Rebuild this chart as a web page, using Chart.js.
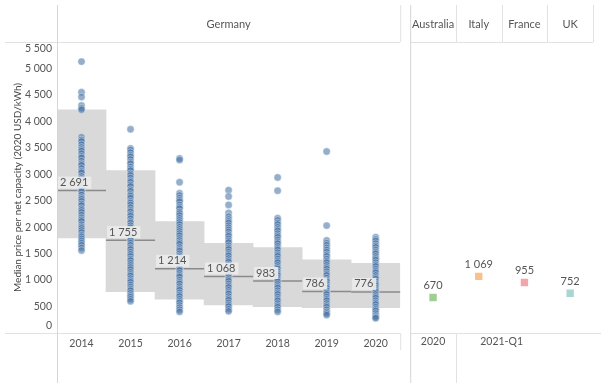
<!DOCTYPE html>
<html><head><meta charset="utf-8">
<script src="https://cdn.jsdelivr.net/npm/chart.js@4/dist/chart.umd.min.js"></script>
<style>
html,body{margin:0;padding:0;background:#fff;}
#wrap{position:relative;width:601px;height:383px;overflow:hidden;background:#fff;}
#c1{position:absolute;left:0;top:0;}
#c2{position:absolute;left:405px;top:0;}
</style></head><body>
<div id="wrap"><canvas id="c1" width="405" height="383"></canvas><canvas id="c2" width="196" height="383"></canvas></div>
<script>
// ---- data ----
const years = ['2014','2015','2016','2017','2018','2019','2020'];
const boxLow = [1797, 781, 638, 530, 498, 479, 479];
const boxHigh = [4219, 3071, 2106, 1697, 1614, 1381, 1319];
const medians = [2691, 1755, 1214, 1068, 983, 786, 776];
const p2014 = [5130, 4550, 4460, 4300, 4250, 4220, 3700, 3650, 3620, 3560, 3510, 3470, 3440, 3390, 3340, 3310, 3250, 3200, 3170, 3110, 3060, 3030, 2960, 2920, 2890, 2830, 2790, 2750, 2700, 2670, 2610, 2560, 2530, 2490, 2440, 2410, 2350, 2320, 2280, 2230, 2180, 2140, 2110, 2050, 2010, 1980, 1940, 1900, 1850, 1820, 1780, 1740, 1700, 1660, 1610, 1560];
const p2015 = [3850, 3490, 3460, 3410, 3360, 3330, 3280, 3230, 3200, 3140, 3100, 3070, 3010, 2980, 2930, 2880, 2850, 2800, 2770, 2710, 2680, 2620, 2590, 2550, 2490, 2460, 2420, 2370, 2320, 2290, 2240, 2210, 2160, 2110, 2080, 2030, 1990, 1950, 1910, 1860, 1830, 1780, 1750, 1700, 1660, 1610, 1580, 1530, 1490, 1450, 1400, 1370, 1320, 1280, 1240, 1200, 1150, 1110, 1080, 1030, 990, 960, 910, 870, 830, 800, 750, 710, 680, 640, 600];
const p2016 = [3300, 3270, 2850, 2640, 2600, 2550, 2510, 2480, 2420, 2380, 2350, 2290, 2260, 2220, 2170, 2130, 2090, 2050, 2000, 1960, 1920, 1880, 1840, 1790, 1750, 1710, 1680, 1620, 1580, 1550, 1500, 1460, 1430, 1370, 1330, 1300, 1250, 1210, 1180, 1130, 1090, 1060, 1000, 960, 930, 880, 840, 810, 760, 720, 690, 640, 600, 570, 520, 480, 440, 400];
const p2017 = [2700, 2580, 2420, 2270, 2200, 2150, 2110, 2080, 2030, 1990, 1950, 1910, 1860, 1830, 1780, 1740, 1710, 1650, 1610, 1580, 1530, 1490, 1460, 1410, 1370, 1340, 1290, 1250, 1220, 1170, 1130, 1100, 1050, 1010, 980, 930, 890, 860, 810, 770, 740, 690, 650, 620, 570, 530, 500, 450, 410];
const p2018 = [2940, 2690, 2170, 2130, 2080, 2050, 2000, 1960, 1930, 1880, 1840, 1810, 1760, 1720, 1690, 1640, 1600, 1570, 1520, 1480, 1450, 1400, 1360, 1330, 1280, 1240, 1210, 1160, 1120, 1090, 1040, 1000, 970, 920, 880, 850, 800, 760, 730, 680, 640, 610, 560, 520, 490, 440, 400];
const p2019 = [3430, 2030, 1750, 1700, 1660, 1610, 1570, 1530, 1480, 1450, 1400, 1360, 1330, 1280, 1240, 1210, 1160, 1120, 1090, 1040, 1000, 970, 920, 880, 850, 800, 760, 730, 680, 640, 610, 560, 520, 490, 440, 400, 370, 340];
const p2020 = [1810, 1770, 1740, 1690, 1650, 1620, 1570, 1530, 1500, 1450, 1410, 1380, 1330, 1290, 1260, 1210, 1170, 1140, 1090, 1050, 1020, 970, 930, 900, 850, 810, 780, 730, 690, 660, 610, 570, 540, 490, 450, 420, 370, 330, 300, 280];
const pricesByYear = [p2014, p2015, p2016, p2017, p2018, p2019, p2020];
const countries = ['Australia', 'Italy', 'France', 'UK'];
const periodLabels = ['2020', '2021-Q1'];
const countryValues = [670, 1069, 955, 752];
const countryColors = ['#9fce94', '#f9c08a', '#f2a6a9', '#a9d6d3'];
const yTicks = [0, 500, 1000, 1500, 2000, 2500, 3000, 3500, 4000, 4500, 5000, 5500];
const yTitle = 'Median price per net capacity (2020 USD/kWh)';

// ---- helpers ----
const FONT = 'Lato, "Open Sans", sans-serif';
const TXT = '#555';
const LINE = '#e2e2e2';
const LINE2 = '#d6d6d6';
Chart.defaults.font.family = FONT;
Chart.defaults.font.size = 10.5;
Chart.defaults.color = TXT;
function fmt(v){ v = Math.round(v); return v >= 1000 ? Math.floor(v/1000) + ' ' + String(v % 1000).padStart(3, '0') : String(v); }
function hline(ctx, x0, x1, y, c){ ctx.strokeStyle = c; ctx.lineWidth = 1; ctx.beginPath(); ctx.moveTo(x0, y + 0.5); ctx.lineTo(x1, y + 0.5); ctx.stroke(); }
function vline(ctx, x, y0, y1, c){ ctx.strokeStyle = c; ctx.lineWidth = 1; ctx.beginPath(); ctx.moveTo(x + 0.5, y0); ctx.lineTo(x + 0.5, y1); ctx.stroke(); }

const scatterData = [];
pricesByYear.forEach((arr, i) => arr.forEach(v => scatterData.push({x: years[i], y: v})));

const leftDecor = {
  id: 'leftDecor',
  afterDatasetDraw(chart, args){
    if (args.index !== 0) return;
    const ctx = chart.ctx, ys = chart.scales.y, meta = chart.getDatasetMeta(0);
    ctx.save();
    ctx.strokeStyle = '#8a8a8a'; ctx.lineWidth = 1.5;
    meta.data.forEach((bar, i) => {
      const y = ys.getPixelForValue(medians[i]);
      ctx.beginPath(); ctx.moveTo(bar.x - bar.width/2, y); ctx.lineTo(bar.x + bar.width/2, y); ctx.stroke();
    });
    ctx.restore();
  },
  afterDatasetsDraw(chart){
    const ctx = chart.ctx, ys = chart.scales.y, meta = chart.getDatasetMeta(0);
    ctx.save();
    ctx.font = '11px ' + FONT;
    ctx.textBaseline = 'middle'; ctx.textAlign = 'left';
    meta.data.forEach((bar, i) => {
      const y = ys.getPixelForValue(medians[i]);
      const t = fmt(medians[i]);
      const w = ctx.measureText(t).width;
      const x0 = bar.x - bar.width/2 + 1;
      ctx.fillStyle = 'rgba(236,236,236,0.92)';
      ctx.fillRect(x0, y - 14, w + 5, 12);
      ctx.fillStyle = TXT;
      ctx.fillText(t, x0 + 2, y - 8);
    });
    ctx.restore();
  },
  afterDraw(chart){
    const ctx = chart.ctx, a = chart.chartArea, ys = chart.scales.y;
    ctx.save();
    hline(ctx, 5, a.right, a.top, LINE);
    hline(ctx, 5, a.right, a.bottom, LINE);
    vline(ctx, a.left, 5, 383, LINE2);
    vline(ctx, a.right, 5, a.top, LINE);
    vline(ctx, a.right, a.bottom, a.bottom + 17, LINE);
    ctx.fillStyle = TXT; ctx.font = '11px ' + FONT;
    ctx.textAlign = 'center'; ctx.textBaseline = 'middle';
    ctx.fillText('Germany', (a.left + a.right)/2, 24);
    // end labels kept inside the pane
    ctx.font = '10.5px ' + FONT; ctx.textAlign = 'right';
    ctx.fillText(fmt(yTicks[0]), a.left - 5, ys.getPixelForValue(yTicks[0]) - 7);
    ctx.fillText(fmt(yTicks[yTicks.length-1]), a.left - 5, ys.getPixelForValue(yTicks[yTicks.length-1]) + 7);
    ctx.restore();
  }
};

new Chart(document.getElementById('c1'), {
  type: 'bar',
  data: {
    labels: years,
    datasets: [
      { type: 'bar', data: years.map((y, i) => [boxLow[i], boxHigh[i]]), backgroundColor: '#d9d9d9', borderWidth: 0, categoryPercentage: 1, barPercentage: 1, order: 2 },
      { type: 'line', data: scatterData, showLine: false, pointRadius: 3.7, pointBorderWidth: 0.8,
        pointBackgroundColor: 'rgba(72,115,165,0.58)', pointBorderColor: 'rgba(255,255,255,0.5)', order: 1 }
    ]
  },
  options: {
    responsive: false, animation: false, devicePixelRatio: 1, events: [],
    layout: { padding: { top: 42, right: 2, left: 0, bottom: 0 } },
    plugins: { legend: { display: false }, tooltip: { enabled: false } },
    scales: {
      x: { grid: { display: false, drawTicks: false }, border: { display: false },
           ticks: { padding: 4, maxRotation: 0, color: TXT, font: { size: 10.5 } },
           afterFit: s => { s.height = 50; } },
      y: { min: 0, max: 5500,
           afterBuildTicks: s => { s.ticks = yTicks.map(v => ({ value: v })); },
           grid: { display: false, drawTicks: false }, border: { display: false },
           ticks: { padding: 5, callback: v => fmt(v),
                    color: c => (c.tick && (c.tick.value === yTicks[0] || c.tick.value === yTicks[yTicks.length-1])) ? 'rgba(0,0,0,0)' : TXT },
           title: { display: true, text: yTitle, color: '#444', font: { size: 10 }, padding: { top: 12, bottom: 0 } },
           afterFit: s => { s.width = 57; } }
    }
  },
  plugins: [leftDecor]
});

const rightDecor = {
  id: 'rightDecor',
  afterDraw(chart){
    const ctx = chart.ctx, a = chart.chartArea, xs = chart.scales.x;
    const meta = chart.getDatasetMeta(0);
    ctx.save();
    hline(ctx, a.left, a.right, a.top, LINE);
    hline(ctx, a.left, 196, a.bottom, LINE);
    vline(ctx, a.left, 5, 383, LINE2);
    const step = (a.right - a.left) / countries.length;
    for (let i = 1; i <= countries.length; i++) vline(ctx, Math.round(a.left + step * i), 5, a.top, LINE);
    vline(ctx, Math.round(a.left + step), a.bottom, 383, LINE);
    ctx.fillStyle = TXT; ctx.font = '11px ' + FONT; ctx.textAlign = 'center'; ctx.textBaseline = 'middle';
    countries.forEach((c, i) => ctx.fillText(c, xs.getPixelForValue(i), 24));
    meta.data.forEach((pt, i) => ctx.fillText(fmt(countryValues[i]), pt.x, pt.y - 12));
    ctx.font = '10.5px ' + FONT;
    ctx.fillText(periodLabels[0], xs.getPixelForValue(0), 342);
    ctx.fillText(periodLabels[1], (xs.getPixelForValue(1) + xs.getPixelForValue(2))/2, 342);
    ctx.restore();
  }
};

new Chart(document.getElementById('c2'), {
  type: 'line',
  data: {
    labels: countries,
    datasets: [{ data: countryValues, showLine: false, pointStyle: 'rect', pointRadius: 5.2, pointBorderWidth: 0,
                 pointBackgroundColor: countryColors }]
  },
  options: {
    responsive: false, animation: false, devicePixelRatio: 1, events: [],
    layout: { padding: { top: 42, right: 8, left: 4, bottom: 0 } },
    plugins: { legend: { display: false }, tooltip: { enabled: false } },
    scales: {
      x: { offset: true, grid: { display: false }, border: { display: false }, ticks: { display: false },
           afterFit: s => { s.height = 50; } },
      y: { display: false, min: 0, max: 5500 }
    }
  },
  plugins: [rightDecor]
});
</script>
</body></html>
